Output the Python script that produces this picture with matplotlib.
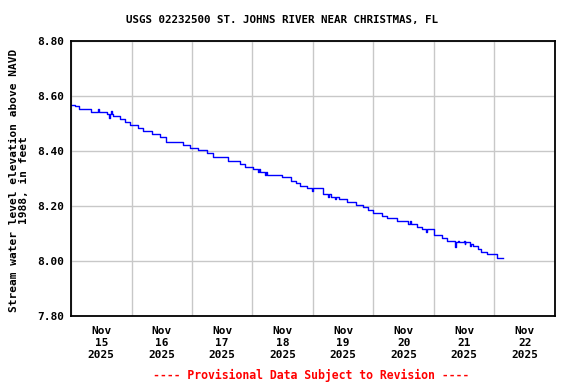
import matplotlib
matplotlib.use("Agg")
import matplotlib.pyplot as plt
from matplotlib.ticker import FixedLocator, FixedFormatter

# hours since Nov 15 2025 00:00, step levels (ft above NAVD 1988)
step_hours = [0, 1.5, 3.25, 8, 14.25, 16.75, 19.5, 21.5, 23.5, 26.5, 28.5, 32,
              35.25, 37.75, 44.5, 47.25, 50.5, 54, 56.25, 62.25, 67, 69, 72.25,
              75, 77.75, 83.75, 87.25, 89.25, 90.75, 93.5, 96, 100, 103, 106.25,
              109.5, 113, 115.75, 117.75, 119.75, 123.5, 125.5, 129.25, 133.75,
              137.25, 139.25, 141.25, 144, 147.25, 149.25, 152.25, 156.25, 159.5,
              161.5, 162.5, 165, 169, 171.5]
step_levels = [8.568, 8.562, 8.554, 8.542, 8.535, 8.529, 8.517, 8.507, 8.493,
               8.483, 8.474, 8.462, 8.450, 8.432, 8.422, 8.410, 8.403, 8.394,
               8.380, 8.365, 8.353, 8.341, 8.335, 8.323, 8.313, 8.304, 8.292,
               8.282, 8.273, 8.264, 8.253, 8.243, 8.231, 8.224, 8.213, 8.203,
               8.195, 8.185, 8.175, 8.163, 8.155, 8.145, 8.134, 8.122, 8.116,
               8.105, 8.094, 8.085, 8.074, 8.069, 8.063, 8.053, 8.044, 8.033,
               8.024, 8.012, 8.012]

# short single-reading blips
spike_hours = [10.75, 15.25, 16.0, 74.25, 77.0, 95.75, 102.0, 104.75, 134.5,
               141.0, 152.5, 153.5, 156.0, 158.25]
spike_levels = [8.554, 8.520, 8.545, 8.323, 8.313, 8.253, 8.231, 8.224, 8.144,
                8.105, 8.051, 8.074, 8.074, 8.053]

day_labels = ["Nov\n15\n2025", "Nov\n16\n2025", "Nov\n17\n2025", "Nov\n18\n2025",
              "Nov\n19\n2025", "Nov\n20\n2025", "Nov\n21\n2025", "Nov\n22\n2025"]
y_ticks = [7.80, 8.00, 8.20, 8.40, 8.60, 8.80]

# merge blips into the step series
pts = list(zip(step_hours, step_levels))
for h, v in zip(spike_hours, spike_levels):
    base = [lv for hh, lv in zip(step_hours, step_levels) if hh <= h][-1]
    pts.append((h, v))
    pts.append((h + 0.25, base))
pts.sort(key=lambda p: p[0])
xs = [p[0] for p in pts]
ys = [p[1] for p in pts]

mono = "DejaVu Sans Mono"

fig = plt.figure(figsize=(5.76, 3.84), dpi=100)
ax = fig.add_axes([71 / 576, 1 - 316 / 384, 484 / 576, 275 / 384])

ax.plot(xs, ys, color="#0000ff", linewidth=1.0, drawstyle="steps-post")

ax.set_xlim(0, 192)
ax.set_ylim(7.80, 8.80)

ax.xaxis.set_major_locator(FixedLocator([24 * i for i in range(9)]))
ax.xaxis.set_major_formatter(FixedFormatter([""] * 9))
ax.xaxis.set_minor_locator(FixedLocator([12 + 24 * i for i in range(8)]))
ax.xaxis.set_minor_formatter(FixedFormatter(day_labels))
ax.set_yticks(y_ticks)
ax.set_yticklabels([f"{t:.2f}" for t in y_ticks])

ax.tick_params(which="both", length=0)
ax.tick_params(axis="x", which="minor", pad=7)
ax.tick_params(axis="y", pad=5)
for lab in ax.get_xticklabels(minor=True) + ax.get_yticklabels():
    lab.set_fontfamily(mono)
    lab.set_fontweight("bold")
    lab.set_fontsize(8)
for lab in ax.get_xticklabels(minor=True):
    lab.set_linespacing(1.25)

ax.grid(True, which="major", color="#c8c8c8", linewidth=1.0)
ax.set_axisbelow(True)
for sp in ax.spines.values():
    sp.set_linewidth(1.3)
    sp.set_color("black")

fig.text(0.49, 1 - 20 / 384, "USGS 02232500 ST. JOHNS RIVER NEAR CHRISTMAS, FL",
         ha="center", va="center", fontfamily=mono, fontweight="bold", fontsize=7.8)
fig.text(19 / 576, 1 - 180 / 384, "Stream water level elevation above NAVD\n1988, in feet",
         ha="center", va="center", rotation=90, fontfamily=mono, fontweight="bold",
         fontsize=8, linespacing=1.1)
fig.text(311 / 576, 1 - 375 / 384, "---- Provisional Data Subject to Revision ----",
         ha="center", va="center", color="#ff0000", fontfamily=mono,
         fontweight="bold", fontsize=8.3)

fig.savefig("out.png", dpi=100, facecolor="white")
